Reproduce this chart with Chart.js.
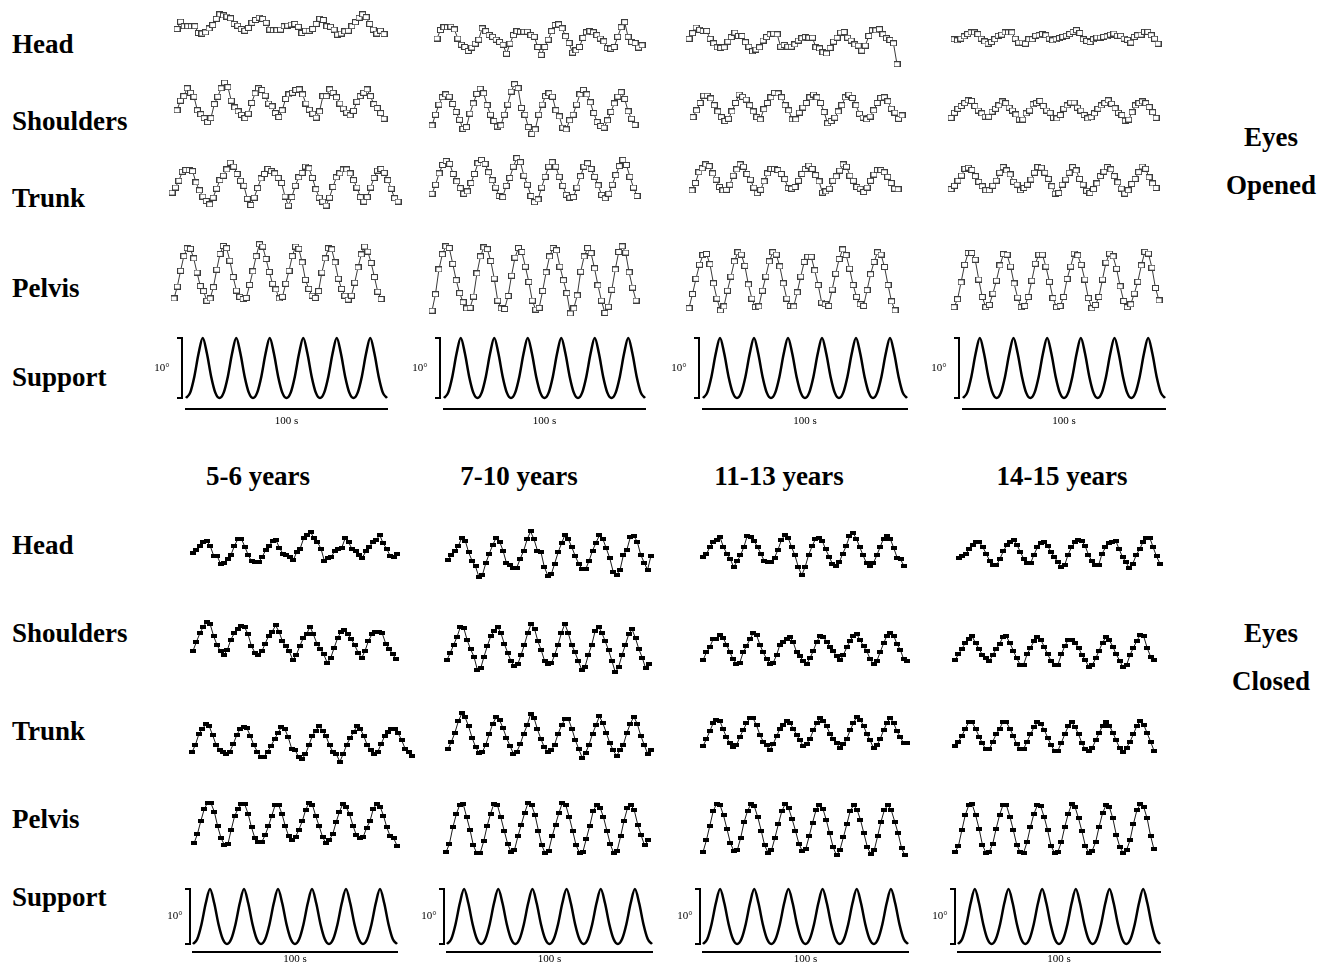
<!DOCTYPE html>
<html>
<head>
<meta charset="utf-8">
<script src="https://cdn.jsdelivr.net/npm/chart.js@4.4.1/dist/chart.umd.min.js"></script>
<style>
  html, body { margin: 0; padding: 0; background: #fff; overflow: hidden; }
  #fig { position: relative; width: 1326px; height: 963px; }
  #fig canvas { position: absolute; }
  .lbl { position: absolute; font-family: "Liberation Serif", "Times New Roman", serif; font-weight: bold; font-size: 27px; line-height: 30px; color: #000; white-space: nowrap; }
</style>
</head>
<body>
<div id="fig"></div>
<script>
// angles in degrees, one value per sample
const openHead56 = [-0.8,0.5,-0.3,-0.3,-0.3,-0.3,-1.5,-1.6,-1.4,-0.7,-0.1,1.0,1.8,1.6,1.4,1.1,0.1,-0.2,-0.8,-1.1,-0.6,0.3,0.8,1.2,1.0,0.3,-0.9,-1.0,-1.0,-0.9,-0.3,-0.2,0,0.1,-0.4,-1.5,-1.1,-1.1,-0.8,0.1,1.0,0.8,-0.3,-0.4,-0.9,-1.8,-1.6,-1.2,-1.1,-0.3,0.4,1.2,1.8,1.3,0.1,-0.9,-1.6,-1.1,-1.7];
const openShoulders56 = [-1.2,0.5,1.3,2.7,1.9,1.2,-1.2,-1.9,-2.6,-3.3,-2.6,-0.1,1.2,2.7,3.7,2.9,0.5,-0.7,-1.4,-2.0,-2.6,-1.8,0.1,1.8,2.7,2.4,1.4,0,-0.5,-1.7,-2.4,-1.2,0.8,1.6,1.9,2.4,2.5,1.6,0,-1.1,-1.8,-2.5,-1.4,1.3,1.3,2.5,1.9,1.1,0,-0.9,-1.6,-2.1,-1.3,0.3,1.3,1.9,2.5,1.3,-0.1,-0.8,-1.7,-2.7];
const openTrunk56 = [-0.9,0,1.2,2.8,3.1,3.1,2.9,0.9,-0.5,-1.6,-2.4,-3.0,-1.8,-0.2,1.3,2.1,3.2,4.4,3.7,2.4,1.2,0.3,-2.0,-3.1,-1.8,-0.1,1.6,2.4,3.3,2.9,2.5,1.7,0.8,-1.6,-3.2,-1.7,0.3,1.8,2.6,3.7,3.4,1.7,-0.3,-1.8,-2.5,-3.2,-1.8,0.1,1.8,2.5,3.2,3.2,2.5,1.3,0,-1.7,-2.5,-1.7,0,1.7,3.0,3.3,2.6,1.3,-0.2,-1.9,-2.5];
const openPelvis56 = [-4.6,-2.5,0.3,2.9,4.3,4.2,2.5,0,-2.4,-3.3,-5.0,-4.6,-2.6,0.5,3.3,4.7,4.3,2.1,-0.8,-3.2,-4.3,-4.7,-4.5,-2.2,0.2,2.9,5.0,4.6,2.4,0.1,-2.0,-3.0,-4.6,-4.3,-2.0,0.3,2.9,4.6,4.2,1.8,-1.3,-2.9,-4.1,-4.5,-3.3,0,2.5,4.3,4.1,1.8,-1.1,-2.9,-4.1,-4.8,-4.1,-1.8,0.9,3.2,4.6,3.7,1.7,-0.8,-3.4,-4.7];

const openHead710 = [0,1.5,2.0,2.0,2.1,1.6,0,-1.1,-1.5,-2.2,-1.6,-0.9,-0.2,1.8,1.3,0.6,0.3,-0.2,-0.6,-1.1,-2.7,-0.9,0.6,1.3,1.2,1.2,1.2,0.6,0.3,-1.5,-2.9,-1.5,-0.2,1.3,2.4,2.5,1.8,0.4,-0.8,-2.5,-2.1,-1.5,0.1,1.1,1.3,1.1,0.6,0,-0.5,-1.7,-1.8,-1.5,0.3,2.0,2.9,0.3,-0.6,-0.8,-1.6,-1.2];
const openShoulders710 = [-3.0,-1.1,0.7,2.0,2.5,2.1,0.8,-0.6,-2.0,-3.6,-3.3,-0.9,0.9,2.6,3.5,2.7,0.6,-1.1,-2.2,-3.2,-3.0,-1.1,0.7,3.0,4.3,3.6,0.1,-1.1,-3.3,-4.5,-3.7,-1.1,0.7,2.2,2.7,2.1,-0.3,-1.4,-3.4,-3.7,-2.1,-1.1,0.7,2.5,3.3,2.5,1.1,-0.8,-2.4,-3.1,-3.4,-2.1,-0.6,0.9,2.1,2.9,1.7,-0.5,-1.8,-2.9];
const openTrunk710 = [-2.7,-1.1,0.9,2.4,3.1,2.6,0.8,-0.5,-1.7,-2.7,-2.3,-0.8,0.8,2.7,3.3,2.6,1.1,-0.3,-1.6,-3.1,-3.3,-1.3,0.1,2.1,3.6,2.9,0.5,-1.1,-3.1,-4.2,-3.7,-1.6,0.3,2.1,2.9,2.1,0.3,-1.3,-2.9,-3.4,-3.3,-1.6,0.4,2.1,2.7,1.7,0.3,-1.2,-2.9,-3.5,-2.7,-1.1,0.6,2.2,3.3,2.4,0.3,-1.6,-3.1];
const openPelvis710 = [-5.7,-2.8,1.6,4.3,5.7,5.4,2.6,-0.3,-2.6,-4.2,-5.3,-5.2,-3.2,0.9,3.9,5.5,5.2,3.1,0,-3.9,-5.3,-5.4,-3.1,0.5,3.7,5.4,4.7,2.1,-0.6,-3.9,-5.5,-5.2,-2.2,1.1,3.9,5.4,5.0,2.1,-0.3,-2.6,-6.2,-5.3,-3.0,1.2,3.9,5.4,4.5,1.8,-1.2,-3.9,-6.1,-5.0,-2.0,1.6,4.7,5.7,4.6,1.1,-1.6,-3.9];

const openHead1113 = [0.3,1.3,2.3,1.9,1.7,1.7,0.3,-0.5,-1.2,-1.3,-1.2,-0.2,0.6,1.4,0.8,0.8,-0.3,-1.1,-1.9,-1.6,-1.2,0,0.6,1.1,1.2,1.1,-1.1,-0.8,-1.1,-1.1,-0.7,0,0.4,0.6,0.5,0.5,-1.2,-1.4,-2.1,-2.3,-1.3,-0.2,0.5,1.4,1.5,0.5,0,-0.7,-0.9,-1.8,-0.9,0.8,1.8,1.8,2.0,1.1,0.4,0.1,-0.5,-4.2];
const openShoulders1113 = [-1.7,-0.5,0.8,2.1,2.1,1.6,0.4,-0.7,-1.7,-2.4,-2.0,-0.7,0.8,2.3,1.9,1.4,0.4,-0.7,-1.7,-2.1,-0.3,0.8,1.8,2.6,2.5,1.8,0.4,-0.5,-2.1,-2.1,-0.9,0,0.8,1.8,2.3,1.8,0.8,-0.8,-2.8,-2.4,-1.8,-0.7,0.4,1.8,2.3,1.7,0.4,-1.1,-1.8,-2.1,-1.6,-0.5,0.8,1.7,1.8,1.1,-0.2,-0.9,-2.0,-1.4];
const openTrunk1113 = [-2.1,-0.8,1.1,1.8,2.5,2.2,0.9,-0.2,-1.5,-2.1,-2.0,-1.1,0.5,1.6,2.5,2.1,0.8,-0.2,-1.6,-2.6,-2.0,-0.5,0.9,1.7,1.7,1.5,0.8,-0.1,-1.7,-1.8,-1.5,-0.4,0.8,1.7,2.3,1.7,0.6,-0.5,-2.5,-2.3,-1.8,-0.4,0.4,1.4,2.5,2.1,0.5,-0.4,-1.5,-1.8,-2.4,-1.6,-0.4,0.7,1.5,1.5,1.1,0.3,-0.8,-1.8,-1.9];
const openPelvis1113 = [-4.9,-2.4,0.3,2.8,4.5,4.7,2.9,-0.5,-3.2,-5.3,-4.6,-1.8,0.7,3.4,5.0,4.6,2.6,-0.7,-3.2,-4.7,-4.6,-1.8,0.7,3.4,5.0,4.6,2.5,-0.5,-3.2,-4.5,-4.6,-2.1,0.7,3.3,4.2,4.2,1.8,-0.8,-3.9,-4.2,-4.5,-1.6,1.2,3.8,5.5,4.5,2.1,-0.8,-2.9,-4.2,-4.5,-1.7,1.1,3.3,5.0,4.6,2.4,-0.8,-3.7,-5.3];

const openHead1415 = [-0.3,-0.5,-0.2,0.2,0.6,0.9,0.9,0.6,-0.2,-0.7,-1.1,-0.8,-0.3,0.3,0.5,0.9,0.9,0.9,-0.2,-0.9,-0.9,-1.1,-0.3,-0.3,0.3,0.4,0.6,0.4,-0.2,-0.5,-0.3,-0.1,0.1,0.3,0.6,1.0,1.3,0.8,-0.3,-0.6,-0.8,-0.3,0,0,0.1,0.2,0.5,0.7,0.3,0.3,-0.2,-0.4,-0.9,0.1,0.4,0.5,1.0,1.0,0.4,-0.2,-1.1];
const openShoulders1415 = [-1.3,-0.4,0.3,0.8,1.3,1.8,1.7,0.8,0,-0.5,-1.1,-1.1,-0.2,0.3,0.9,1.6,1.3,0.5,0,-0.7,-1.6,-1.6,-0.5,0,1.1,1.3,1.7,0.8,0,-0.4,-1.3,-1.4,-0.8,0.3,0.9,1.4,1.4,0.5,0,-0.8,-1.4,-1.2,-0.5,0.3,0.9,1.3,1.8,1.2,0.4,-0.4,-0.8,-1.8,-1.6,-0.3,0.9,1.3,1.6,1.3,0.6,-0.3,-1.3];
const openTrunk1415 = [-1.7,-1.1,-0.2,0.7,1.9,2.1,1.7,0.6,-0.4,-1.2,-1.9,-1.9,-1.1,-0.2,1.2,2.2,1.6,0.9,-0.4,-0.9,-1.9,-1.5,-0.9,0,1.2,2.2,2.1,1.2,0.1,-1.2,-2.5,-2.4,-0.9,0,1.2,2.2,1.6,0.1,-0.9,-2.0,-2.4,-1.7,-0.7,0.6,1.4,2.2,1.8,0.6,-0.5,-1.6,-2.5,-1.9,-0.8,0.1,1.3,2.3,1.9,0.4,-0.7,-1.5];
const openPelvis1415 = [-4.9,-3.5,-0.5,2.6,4.7,4.7,3.5,0,-3.1,-4.9,-4.5,-2.5,-0.2,2.5,4.5,4.4,2.3,-0.7,-3.2,-4.9,-4.7,-3.1,-0.2,2.8,4.4,4.4,2.3,-0.4,-3.3,-4.9,-4.7,-3.1,0.1,2.3,4.6,4.3,2.6,0,-3.3,-5.1,-4.5,-3.1,0,3.0,4.6,4.1,1.9,-1.2,-3.8,-4.9,-4.4,-2.5,-0.4,2.5,4.9,4.6,2.1,-1.5,-3.7];

const closedHead56 = [-0.8,-0.2,0.5,1.1,1.3,0.4,-1.3,-1.3,-2.8,-2.5,-1.8,-1.1,0.5,1.7,1.7,0.3,-1.2,-2.3,-2.4,-2.4,-1.5,-0.3,0.4,1.3,1.5,0.1,-0.9,-1.2,-1.5,-2.1,-0.6,0,1.8,2.4,2.9,1.8,1.1,0,-2.2,-1.7,-1.5,-0.4,-0.1,0.1,1.8,1.1,-0.1,-0.4,-1.1,-1.6,-0.5,0.3,1.1,1.5,2.4,0.9,0,-1.3,-1.5,-0.9];
const closedShoulders56 = [-1.3,0.3,1.8,3.0,3.8,3.4,1.3,-0.3,-1.4,-2.0,-1.1,0.7,1.8,2.6,3.1,2.9,1.6,-0.5,-1.6,-2.1,-1.4,0,1.4,2.1,3.2,2.1,0.4,-0.5,-1.4,-2.9,-2.1,-0.5,0.9,1.6,3.0,1.6,0,-0.9,-1.9,-3.4,-2.6,-0.8,0.9,2.1,2.4,1.6,0.8,-0.3,-1.6,-2.6,-1.3,0.5,1.6,2.1,2.1,1.8,0,-0.9,-1.9,-2.7];
const closedTrunk56 = [-1.7,-0.4,1.5,2.4,3.2,2.9,1.3,-0.4,-1.3,-1.6,-2.1,-1.6,-0.3,1.3,2.4,2.7,2.5,1.1,-0.5,-1.6,-2.5,-2.5,-1.6,-0.6,0.6,1.7,2.7,2.4,0.9,-1.1,-1.3,-2.6,-2.9,-2.1,-0.5,1.2,2.1,2.9,2.1,1.1,-0.5,-1.7,-2.1,-3.4,-2.0,-0.4,0.8,1.8,2.9,2.4,1.1,-0.5,-1.3,-2.1,-1.7,-0.3,1.1,1.8,2.4,2.4,1.6,0.4,-1.1,-1.7,-2.4];
const closedPelvis56 = [-3.5,-1.9,0.4,2.5,3.7,3.6,2.1,-0.5,-2.6,-3.8,-3.7,-1.1,1.3,2.6,3.4,3.4,1.7,-0.7,-2.6,-3.3,-3.3,-2.1,-0.5,1.4,3.3,3.3,1.7,-0.5,-2.3,-3.0,-2.4,-1.1,0.4,2.4,3.7,3.3,1.3,-0.5,-2.4,-3.5,-2.9,-1.9,0.2,2.1,3.5,2.9,1.6,-0.4,-2.1,-2.6,-2.4,-0.8,0.4,2.6,3.5,3.0,1.4,-0.7,-2.3,-2.6,-3.9];

const closedHead710 = [-1.2,-0.2,0.5,1.3,2.8,2.3,0.2,-1.3,-2.3,-4.2,-3.8,-1.7,0,1.5,2.8,2.1,0.5,-1.7,-2.1,-2.5,-2.5,-0.9,0.5,2.5,3.9,2.5,0.5,0.3,-2.4,-3.9,-3.7,-1.8,0.2,1.8,3.3,2.5,1.1,-0.5,-1.8,-2.8,-2.8,-1.3,0.5,1.9,3.2,2.6,0.9,-0.8,-3.2,-3.8,-2.9,-0.2,0.7,2.9,3.1,2.1,-0.2,-1.6,-2.9,-0.4];
const closedShoulders710 = [-2.2,-0.9,0.5,1.9,3.7,3.4,1.3,-0.3,-1.6,-3.9,-3.7,-1.6,0.3,2.0,2.9,3.7,2.6,0.7,-0.9,-2.4,-3.3,-3.0,-1.3,0.5,2.6,4.2,3.3,1.1,-0.5,-2.4,-3.0,-2.8,-1.3,0.5,2.6,4.2,2.6,0.5,-0.8,-2.4,-3.9,-3.4,-1.3,0.5,2.9,3.7,2.6,1.1,-0.5,-2.4,-4.4,-3.4,-1.3,0.5,2.4,3.2,1.6,-0.3,-1.8,-3.7,-2.9];
const closedTrunk710 = [-2.4,-1.1,0.5,2.5,3.9,3.2,1.6,-0.4,-2.0,-3.1,-2.9,-1.6,0.3,2.1,3.2,2.7,1.3,-0.4,-1.8,-3.2,-2.9,-1.5,0.3,1.8,3.8,3.1,1.1,-0.6,-2.1,-2.9,-2.6,-1.6,0.3,1.8,2.9,2.9,1.2,-0.8,-2.4,-3.9,-3.1,-1.6,0.3,1.8,3.4,2.2,0.5,-1.3,-2.6,-3.6,-2.6,-1.6,0.5,2.1,3.3,2.1,0,-1.6,-3.2,-2.5];
const closedPelvis710 = [-4.2,-2.7,0.2,2.5,4.2,4.4,2.1,-0.2,-3.0,-4.4,-4.3,-2.3,0.4,2.6,4.4,4.2,2.0,-0.4,-2.7,-4.2,-3.8,-1.4,0.7,2.8,4.6,4.1,2.4,-0.4,-3.0,-4.4,-3.9,-1.4,0.7,2.8,4.6,4.1,2.0,-0.4,-3.0,-4.3,-4.1,-1.8,0.5,3.1,4.2,3.7,2.0,-0.4,-2.8,-4.4,-3.9,-1.4,1.4,3.6,4.2,3.2,0.7,-1.2,-3.0,-2.1];

const closedHead1113 = [-0.9,-0.5,0.8,1.7,2.1,2.5,0.8,-0.4,-1.3,-2.8,-1.7,-0.7,0.8,2.8,2.6,1.9,0.8,-0.4,-1.7,-1.9,-1.9,-1.1,0.3,2.0,2.9,2.4,0.8,-0.7,-2.8,-4.2,-2.7,-0.6,0.9,2.2,2.4,1.9,0.4,-0.9,-2.2,-2.5,-1.9,-0.4,0.9,2.7,3.3,2.3,0.8,-0.7,-2.1,-2.6,-2.1,-0.7,0.8,2.3,2.7,2.2,0.6,-1.1,-1.4,-2.6];
const closedShoulders1113 = [-2.1,-0.7,0.2,1.6,1.7,2.4,1.9,0.7,-0.6,-1.9,-2.7,-2.5,-0.7,0.4,1.6,2.7,2.4,0.7,-0.7,-1.8,-2.7,-2.5,-1.2,0.7,1.2,1.7,2.0,1.1,-0.7,-1.4,-2.2,-2.7,-1.7,-0.4,1.2,2.2,2.0,1.2,0.3,-0.5,-1.4,-2.1,-1.1,0.2,1.4,2.3,2.5,1.5,0.4,-0.5,-1.9,-2.8,-2.2,-0.6,0.9,2.3,2.8,2.3,0.8,-0.2,-1.9,-2.2];
const closedTrunk1113 = [-2.4,-1.2,0.2,1.6,2.3,2.1,0.6,-0.8,-1.9,-2.5,-2.3,-0.8,0.4,1.6,2.5,2.5,1.3,-0.4,-1.6,-2.3,-3.1,-2.0,-0.7,0.7,1.4,2.1,1.7,0.7,-0.4,-1.4,-2.4,-2.0,-1.1,0.4,1.6,2.5,2.1,1.1,-0.3,-1.1,-1.9,-2.8,-2.1,-1.1,0.4,1.7,2.8,2.3,1.2,-0.3,-1.4,-2.8,-2.3,-1.1,0.4,1.7,2.6,1.7,0.2,-0.8,-1.9,-1.9];
const closedPelvis1113 = [-4.0,-1.9,0.7,3.3,4.6,4.3,2.5,0.1,-2.4,-3.8,-3.7,-1.5,1.3,3.3,4.5,4.1,2.2,-0.2,-2.8,-4.1,-3.7,-1.5,0.9,3.2,4.5,3.8,1.9,-0.2,-2.5,-3.8,-3.5,-1.2,1.2,3.4,4.4,3.7,1.7,-0.7,-3.1,-4.6,-3.6,-1.4,0.9,3.3,4.3,3.5,1.7,-0.7,-3.1,-4.4,-3.7,-1.2,1.4,3.5,4.3,3.4,1.4,-0.7,-3.3,-4.6];

const closedHead1415 = [-0.9,-0.7,-0.2,0.6,1.4,1.9,1.8,0.9,-0.2,-1.5,-2.3,-2.3,-1.1,0.2,1.3,1.9,2.2,1.4,0.1,-1.1,-1.9,-1.9,-0.4,0.9,1.7,1.9,1.2,0.1,-0.8,-1.7,-2.5,-2.3,-0.4,0.9,1.8,2.2,2.1,1.2,-0.4,-1.5,-2.3,-2.2,-0.2,0.9,1.7,1.9,2.1,0.6,-0.8,-1.7,-2.8,-2.0,-0.5,0.6,1.8,2.5,2.6,0.9,-0.7,-2.0];
const closedShoulders1415 = [-1.7,-0.7,0.3,1.3,2.1,2.5,1.3,0.3,-0.8,-1.4,-1.9,-0.8,0.3,1.2,2.4,2.5,1.3,0,-1.4,-2.5,-2.5,-0.7,0.5,1.6,2.4,1.9,0.7,-0.7,-1.8,-2.6,-2.5,-0.7,0.8,1.9,1.9,1.3,0.5,-0.8,-1.7,-2.9,-2.6,-1.4,0,1.4,2.4,1.8,0.7,-0.7,-1.8,-3.0,-2.6,-0.8,0.5,1.7,2.8,2.5,0.5,-1.1,-1.7];
const closedTrunk1415 = [-1.7,-0.9,0.1,1.4,2.5,2.5,1.4,0,-1.2,-2.3,-2.3,-0.9,0.4,1.4,2.6,2.5,1.4,0.1,-1.4,-2.3,-2.2,-0.9,0.4,1.6,2.5,2.2,1.2,-0.2,-1.5,-2.6,-2.5,-1.1,0.4,1.8,2.5,1.7,0.4,-1.2,-2.3,-2.6,-2.0,-0.7,0.6,1.9,2.6,1.9,0.7,-0.7,-2.1,-2.8,-2.0,-0.9,0.4,1.9,2.7,2.1,0.6,-0.9,-2.5];
const closedPelvis1415 = [-4.2,-3.1,-0.3,2.4,4.1,4.3,2.4,0,-2.9,-4.3,-4.1,-2.7,0,2.4,4.2,4.1,2.1,-0.3,-2.9,-4.2,-4.3,-2.4,0.3,2.6,4.1,3.9,2.0,-0.3,-3.1,-4.3,-4.1,-2.4,0.3,2.6,4.3,3.8,1.8,-0.5,-3.1,-4.3,-3.9,-2.4,0.3,2.7,4.1,3.8,1.8,-1.1,-3.2,-4.3,-3.8,-2.1,0.8,3.2,4.3,3.8,1.8,-1.3,-3.7];

// support platform tilt, 0..10 deg, six cycles over 100 s
const support = [0,0.9,3.6,7.4,10,7.4,3.6,0.9, 0,0.9,3.6,7.4,10,7.4,3.6,0.9, 0,0.9,3.6,7.4,10,7.4,3.6,0.9,
                 0,0.9,3.6,7.4,10,7.4,3.6,0.9, 0,0.9,3.6,7.4,10,7.4,3.6,0.9, 0,0.9,3.6,7.4,10,7.4,3.6,0.9, 0];

const segments = ['Head', 'Shoulders', 'Trunk', 'Pelvis', 'Support'];
const ageGroups = ['5-6 years', '7-10 years', '11-13 years', '14-15 years'];
const conditions = [['Eyes', 'Opened'], ['Eyes', 'Closed']];

const openData = [
    [openHead56, openHead710, openHead1113, openHead1415],
    [openShoulders56, openShoulders710, openShoulders1113, openShoulders1415],
    [openTrunk56, openTrunk710, openTrunk1113, openTrunk1415],
    [openPelvis56, openPelvis710, openPelvis1113, openPelvis1415]
];
const closedData = [
    [closedHead56, closedHead710, closedHead1113, closedHead1415],
    [closedShoulders56, closedShoulders710, closedShoulders1113, closedShoulders1415],
    [closedTrunk56, closedTrunk710, closedTrunk1113, closedTrunk1415],
    [closedPelvis56, closedPelvis710, closedPelvis1113, closedPelvis1415]
];

// layout: [left px, right px, baseline px] of every small trace
const openBoxes = [
    [[177,384,24],[437,642,38],[689,897,40],[954,1158,37]],
    [[177,384,103],[432,635,108],[693,902,107],[951,1156,110]],
    [[172,398,187],[432,637,178],[692,898,178],[951,1156,179]],
    [[174,381,272],[432,636,278],[689,895,280],[954,1159,279]]
];
const closedBoxes = [
    [[193,397,548],[448,651,553],[703,904,551],[959,1160,552]],
    [[193,396,643],[447,649,647],[703,907,648],[955,1154,650]],
    [[192,412,742],[448,651,735],[703,907,732],[955,1154,736]],
    [[194,397,823],[446,648,828],[703,905,829],[955,1154,828]]
];
const supportGeo = [
    { spans: [[186,387],[444,645],[703,907],[963,1165]], peak: 338, trough: 398, line: 409, titlePad: 7, gap: 4, textGap: 24 },
    { spans: [[193,397],[447,652],[703,908],[958,1160]], peak: 889, trough: 944, line: 952, titlePad: 2, gap: 3, textGap: 18 }
];
const topRowY = [44, 121, 198, 288, 377];
const bottomRowY = [545, 633, 731, 819, 897];

const PX_PER_DEG = 6.33;
const RANGE = 7;
const fig = document.getElementById('fig');

function makeCanvas(left, top, w, h) {
    const c = document.createElement('canvas');
    c.width = Math.round(w);
    c.height = Math.round(h);
    c.style.left = Math.round(left) + 'px';
    c.style.top = Math.round(top) + 'px';
    fig.appendChild(c);
    return c;
}

function marker(w, h, filled) {
    const c = document.createElement('canvas');
    c.width = w; c.height = h;
    const g = c.getContext('2d');
    if (filled) {
        g.fillStyle = '#000';
        g.fillRect(0, 0, w, h);
    } else {
        g.fillStyle = '#fff';
        g.fillRect(0, 0, w, h);
        g.strokeStyle = '#3c3c3c';
        g.lineWidth = 1;
        g.strokeRect(0.5, 0.5, w - 1, h - 1);
    }
    return c;
}
const openMark = marker(7, 6, false);
const closedMark = marker(6, 4, true);

const baseOptions = {
    responsive: false,
    animation: false,
    events: [],
    plugins: { legend: { display: false }, tooltip: { enabled: false } }
};

function traceChart(box, values, filled) {
    const [x0, x1, mid] = box;
    const pad = 6;
    const h = 2 * RANGE * PX_PER_DEG;
    const canvas = makeCanvas(x0 - pad, mid - h / 2, x1 - x0 + 2 * pad, h);
    new Chart(canvas, {
        type: 'line',
        data: {
            labels: values.map((_, i) => i),
            datasets: [{
                data: values,
                borderColor: filled ? '#1a1a1a' : '#3a3a3a',
                borderWidth: 1,
                pointStyle: filled ? closedMark : openMark,
                pointRadius: 3,
                tension: 0,
                clip: false
            }]
        },
        options: {
            ...baseOptions,
            layout: { padding: { left: pad, right: pad, top: 0, bottom: 0 } },
            scales: {
                x: { display: false },
                y: { display: false, min: -RANGE, max: RANGE }
            }
        }
    });
}

// "]" bracket with the 10 deg label, left of the support trace
const bracketPlugin = {
    id: 'bracket',
    afterDraw(chart, args, opts) {
        const { ctx, chartArea, scales: { y } } = chart;
        const top = y.getPixelForValue(10);
        const bottom = y.getPixelForValue(0);
        const x = chartArea.left - opts.gap;
        ctx.save();
        ctx.strokeStyle = '#000';
        ctx.lineWidth = 2;
        ctx.beginPath();
        ctx.moveTo(x - 5, top);
        ctx.lineTo(x, top);
        ctx.lineTo(x, bottom);
        ctx.lineTo(x - 5, bottom);
        ctx.stroke();
        ctx.fillStyle = '#000';
        ctx.font = '11px "Liberation Serif", serif';
        ctx.textAlign = 'center';
        ctx.textBaseline = 'middle';
        ctx.fillText('10°', chartArea.left - opts.textGap, (top + bottom) / 2);
        ctx.restore();
    }
};

function supportChart(span, geo) {
    const [x0, x1] = span;
    const ppd = (geo.trough - geo.peak) / 10;
    const areaTop = geo.peak - 3;
    const areaH = geo.line - areaTop;
    const left = 40, right = 4;
    const canvas = makeCanvas(x0 - left, areaTop, x1 - x0 + left + right, areaH + 11 + geo.titlePad);
    new Chart(canvas, {
        type: 'line',
        data: {
            labels: support.map((_, i) => i),
            datasets: [{
                data: support,
                borderColor: '#000',
                borderWidth: 2.5,
                pointRadius: 0,
                cubicInterpolationMode: 'monotone',
                clip: false
            }]
        },
        options: {
            ...baseOptions,
            layout: { padding: { left: left, right: right, top: 0, bottom: 0 } },
            plugins: {
                legend: { display: false },
                tooltip: { enabled: false },
                bracket: { gap: geo.gap, textGap: geo.textGap }
            },
            scales: {
                x: {
                    display: true,
                    grid: { display: false, drawTicks: false },
                    ticks: { display: false },
                    border: { display: true, color: '#000', width: 2 },
                    title: {
                        display: true, text: '100 s', color: '#000',
                        font: { family: '"Liberation Serif", serif', size: 11, lineHeight: 1 },
                        padding: { top: geo.titlePad, bottom: 0 }
                    }
                },
                y: { display: false, min: -(geo.line - geo.trough) / ppd, max: 10 + 3 / ppd }
            }
        },
        plugins: [bracketPlugin]
    });
}

for (let r = 0; r < 4; r++) {
    for (let c = 0; c < 4; c++) {
        traceChart(openBoxes[r][c], openData[r][c], false);
        traceChart(closedBoxes[r][c], closedData[r][c], true);
    }
}
supportGeo.forEach(geo => geo.spans.forEach(span => supportChart(span, geo)));

function label(text, left, centerY, align) {
    const d = document.createElement('div');
    d.className = 'lbl';
    d.textContent = text;
    d.style.top = (centerY - 15) + 'px';
    d.style.left = left + 'px';
    if (align === 'center') d.style.transform = 'translateX(-50%)';
    fig.appendChild(d);
}

segments.forEach((s, i) => {
    label(s, 12, topRowY[i]);
    label(s, 12, bottomRowY[i]);
});
const ageX = [258, 519, 779, 1062];
ageGroups.forEach((a, i) => label(a, ageX[i], 476, 'center'));
label(conditions[0][0], 1271, 137, 'center');
label(conditions[0][1], 1271, 185, 'center');
label(conditions[1][0], 1271, 633, 'center');
label(conditions[1][1], 1271, 681, 'center');
</script>
</body>
</html>
